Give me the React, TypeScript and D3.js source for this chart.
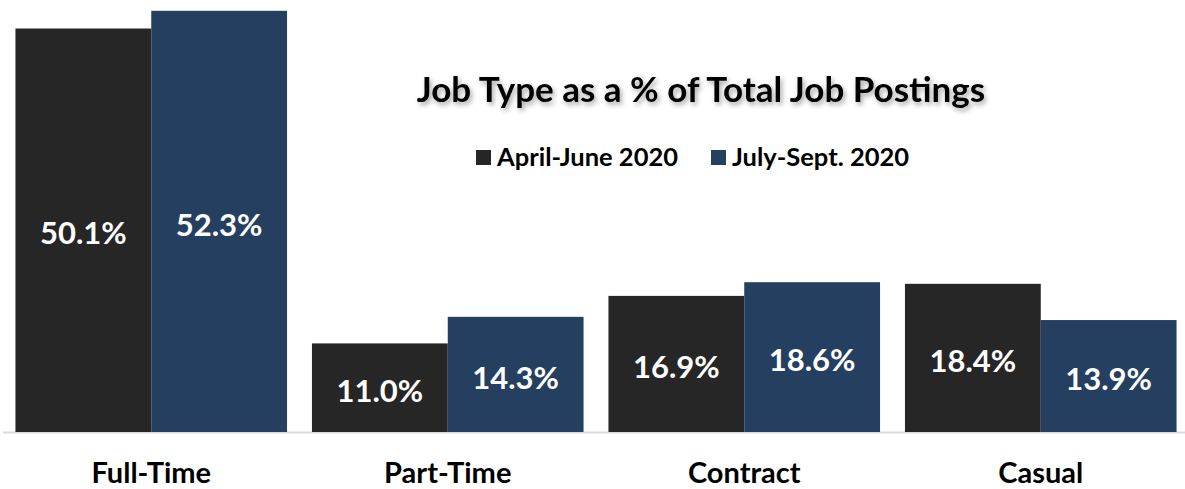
import React from "react";
import * as d3 from "d3";

const categories = ["Full-Time", "Part-Time", "Contract", "Casual"];
const seriesNames = ["April-June 2020", "July-Sept. 2020"];
const aprJun = [50.1, 11.0, 16.9, 18.4];
const julSep = [52.3, 14.3, 18.6, 13.9];
const colors = ["#262626", "#243F60"];
const title = "Job Type as a % of Total Job Postings";

const W = 1185;
const H = 489;
const FONT = "Lato, 'Open Sans', sans-serif";

export default function App() {
  const baseline = 432;
  const x0 = d3
    .scaleBand<string>()
    .domain(categories)
    .range([3, 1189])
    .paddingInner(0.084)
    .paddingOuter(0.042);
  const x1 = d3.scaleBand<number>().domain([0, 1]).range([0, x0.bandwidth()]);
  const y = d3.scaleLinear().domain([0, 53.64]).range([baseline, 0]);
  const series = [aprJun, julSep];

  return (
    <svg
      width={W}
      height={H}
      style={{ position: "absolute", left: 0, top: 0, background: "#fff" }}
      fontFamily={FONT}
    >
      <defs>
        <filter id="shadow" x="-10%" y="-50%" width="120%" height="200%">
          <feDropShadow dx="2" dy="3" stdDeviation="2.5" floodColor="#000" floodOpacity="0.35" />
        </filter>
      </defs>
      <line x1={3} x2={W} y1={baseline + 0.5} y2={baseline + 0.5} stroke="#d9d9d9" strokeWidth={2} />
      {categories.map((c, i) => (
        <g key={c}>
          {series.map((s, j) => {
            const bx = (x0(c) ?? 0) + (x1(j) ?? 0);
            const bw = x1.bandwidth();
            const top = y(s[i]);
            return (
              <g key={j}>
                <rect x={bx} y={top} width={bw} height={baseline - top} fill={colors[j]} />
                <text
                  x={bx + bw / 2}
                  y={(top + baseline) / 2 + 3}
                  dy="0.36em"
                  textAnchor="middle"
                  fill="#fff"
                  fontWeight={700}
                  fontSize={31}
                >
                  {s[i].toFixed(1) + "%"}
                </text>
              </g>
            );
          })}
          <text
            x={(x0(c) ?? 0) + x0.bandwidth() / 2}
            y={483}
            textAnchor="middle"
            fill="#000"
            fontWeight={700}
            fontSize={29}
          >
            {c}
          </text>
        </g>
      ))}
      <text
        x={701}
        y={102}
        textAnchor="middle"
        fontWeight={700}
        fontSize={35}
        fill="#000"
        filter="url(#shadow)"
      >
        {title}
      </text>
      {seriesNames.map((n, j) => {
        const lx = [476, 711][j];
        return (
          <g key={n}>
            <rect x={lx} y={150} width={15} height={15} fill={colors[j]} />
            <text x={lx + 21} y={166} fontWeight={700} fontSize={25.5} fill="#000">
              {n}
            </text>
          </g>
        );
      })}
    </svg>
  );
}
